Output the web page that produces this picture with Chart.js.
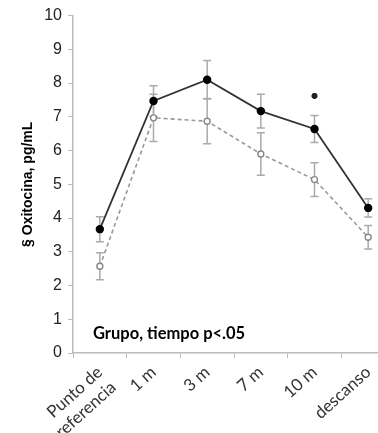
<!DOCTYPE html>
<html>
<head>
<meta charset="utf-8">
<script src="https://cdn.jsdelivr.net/npm/chart.js@4.4.1/dist/chart.umd.min.js"></script>
<style>
  html, body { margin: 0; padding: 0; background: #fff; overflow: hidden; }
  #wrap { width: 401px; height: 433px; }
</style>
</head>
<body>
<div id="wrap"><canvas id="oxyChart"></canvas></div>
<script>
// values
const timepoints = [['Punto de', 'referencia'], '1 m', '3 m', '7 m', '10 m', 'descanso'];
const groupA     = [3.67, 7.47, 8.1, 7.17, 6.64, 4.3];
const groupAErr  = [0.37, 0.45, 0.57, 0.5, 0.4, 0.27];
const groupB     = [2.57, 6.97, 6.87, 5.9, 5.14, 3.43];
const groupBErr  = [0.4, 0.7, 0.67, 0.63, 0.5, 0.35];
const starMarks  = [null, null, null, null, 7.62, null];
const noteText   = 'Grupo, tiempo p<.05';

const errorBars = {
  id: 'errorBars',
  beforeDatasetsDraw(chart) {
    const { ctx, scales: { x, y } } = chart;
    ctx.save();
    ctx.strokeStyle = '#aaa';
    ctx.lineWidth = 1.5;
    chart.data.datasets.forEach(ds => {
      if (!ds.errors) return;
      ds.data.forEach((v, i) => {
        const px = x.getPixelForValue(i);
        const top = y.getPixelForValue(v + ds.errors[i]);
        const bot = y.getPixelForValue(v - ds.errors[i]);
        ctx.beginPath();
        ctx.moveTo(px, top); ctx.lineTo(px, bot);
        ctx.moveTo(px - 4, top); ctx.lineTo(px + 4, top);
        ctx.moveTo(px - 4, bot); ctx.lineTo(px + 4, bot);
        ctx.stroke();
      });
    });
    ctx.restore();
  },
  afterDraw(chart) {
    const { ctx, chartArea: { left }, scales: { y } } = chart;
    ctx.save();
    ctx.font = 'bold 16.5px Lato';
    ctx.fillStyle = '#000';
    ctx.textBaseline = 'alphabetic';
    ctx.fillText(noteText, left + 20, y.getPixelForValue(0.41));
    ctx.restore();
  }
};

new Chart(document.getElementById('oxyChart').getContext('2d'), {
  type: 'line',
  data: {
    labels: timepoints,
    datasets: [
      {
        data: groupA,
        errors: groupAErr,
        borderColor: '#333',
        borderWidth: 1.8,
        pointRadius: 3.3,
        pointBackgroundColor: '#000',
        pointBorderColor: '#000',
        tension: 0
      },
      {
        data: groupB,
        errors: groupBErr,
        borderColor: '#999',
        borderWidth: 1.6,
        borderDash: [4, 3],
        pointRadius: 3,
        pointBackgroundColor: '#fff',
        pointBorderColor: '#888',
        pointBorderWidth: 1.4,
        tension: 0
      },
      {
        data: starMarks,
        showLine: false,
        pointStyle: 'star',
        pointRadius: 3,
        borderColor: '#222',
        borderWidth: 2
      }
    ]
  },
  options: {
    responsive: true,
    maintainAspectRatio: false,
    animation: false,
    layout: { padding: { top: 8, right: 0, left: 20, bottom: 0 } },
    plugins: { legend: { display: false }, tooltip: { enabled: false } },
    scales: {
      x: {
        offset: true,
        afterFit: s => { s.height = 80; },
        grid: { offset: true, drawOnChartArea: false, tickLength: 5, color: '#bbb' },
        border: { color: '#bbb', width: 1.5 },
        ticks: { autoSkip: false, minRotation: 42, maxRotation: 42, padding: 4, color: '#333', font: { family: 'Lato', size: 17 } }
      },
      y: {
        min: 0, max: 10,
        afterFit: s => { s.width = 53; },
        title: { display: true, text: '§ Oxitocina, pg/mL', color: '#000', padding: 0, font: { family: 'Liberation Sans', size: 14, weight: 'bold' } },
        grid: { drawOnChartArea: false, tickLength: 5, color: '#bbb' },
        border: { color: '#bbb', width: 1.5 },
        ticks: { stepSize: 1, padding: 6, color: '#222', font: { family: 'Liberation Sans', size: 16 } }
      }
    }
  },
  plugins: [errorBars]
});
</script>
</body>
</html>
